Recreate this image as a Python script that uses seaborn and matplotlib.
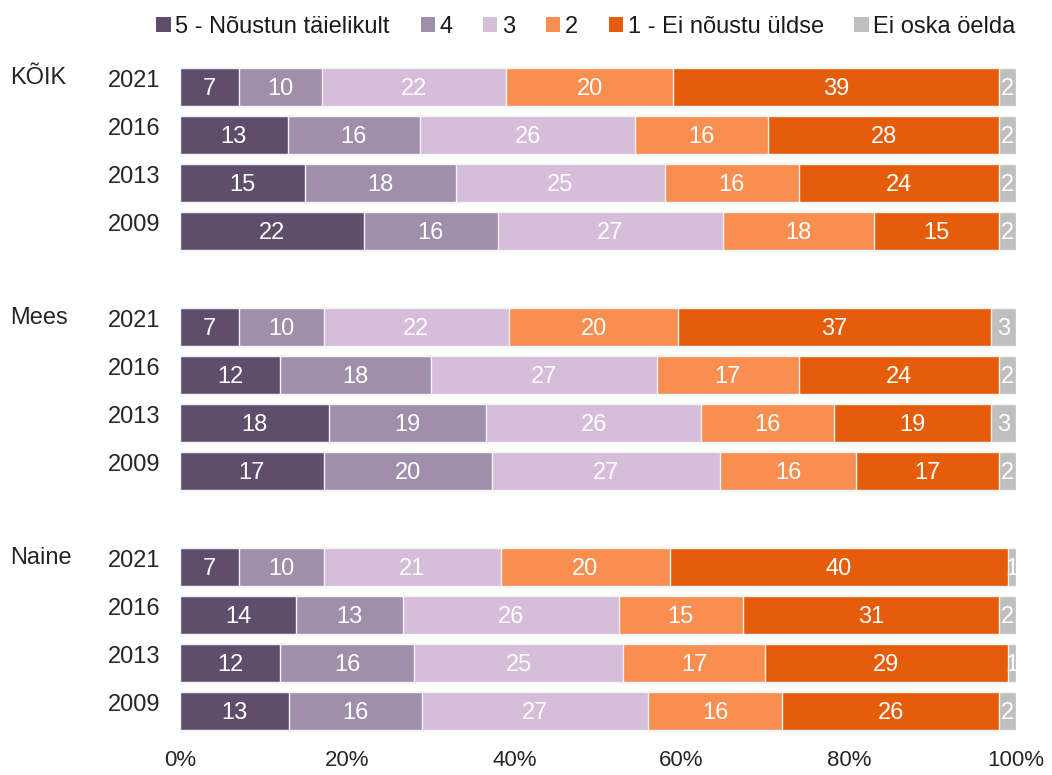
import numpy as np
import pandas as pd
import matplotlib
matplotlib.use("Agg")
import matplotlib.pyplot as plt
import seaborn as sns
from matplotlib import transforms
from matplotlib.patches import Patch

# ------------------------------------
# Data
# ------------------------------------

groups = ['KÕIK', 'Mees', 'Naine']
years = ['2021', '2016', '2013', '2009']
categories = ['5 - Nõustun täielikult', '4', '3', '2', '1 - Ei nõustu üldse', 'Ei oska öelda']
colors = ['#5e4e6b', '#a08fab', '#d6bdd9', '#f88e50', '#e55c0a', '#bfbfbf']

# one value per row: KÕIK 2021..2009, Mees 2021..2009, Naine 2021..2009
v5 = [7, 13, 15, 22, 7, 12, 18, 17, 7, 14, 12, 13]
v4 = [10, 16, 18, 16, 10, 18, 19, 20, 10, 13, 16, 16]
v3 = [22, 26, 25, 27, 22, 27, 26, 27, 21, 26, 25, 27]
v2 = [20, 16, 16, 18, 20, 17, 16, 16, 20, 15, 17, 16]
v1 = [39, 28, 24, 15, 37, 24, 19, 17, 40, 31, 29, 26]
v0 = [2, 2, 2, 2, 3, 2, 3, 2, 1, 2, 1, 2]

df = pd.DataFrame({'group': np.repeat(groups, len(years)), 'year': years * len(groups)})
for cat, vals in zip(categories, [v5, v4, v3, v2, v1, v0]):
    df[cat] = vals
df['row'] = df['group'] + ' ' + df['year']

shares = df[categories].div(df[categories].sum(axis=1), axis=0) * 100
cum = shares.cumsum(axis=1)

# row order with an empty slot between the groups
order = []
for gi, g in enumerate(groups):
    order += [g + ' ' + y for y in years]
    if gi < len(groups) - 1:
        order.append('gap%d' % gi)

# ------------------------------------
# Plot
# ------------------------------------

sns.set_style('white')
plt.rcParams['font.family'] = ['Liberation Sans', 'DejaVu Sans']

fig, ax = plt.subplots(figsize=(10.52, 7.75), dpi=100)
fig.subplots_adjust(left=0.1711, right=0.9658, top=0.9187, bottom=0.0516)

# stacked bars: draw cumulative totals from the longest to the shortest
for i in reversed(range(len(categories))):
    sns.barplot(x=cum[categories[i]], y=df['row'], order=order, orient='h',
                color=colors[i], saturation=1, width=0.8,
                edgecolor='#f4f4f4', linewidth=1, ax=ax)

# value labels
for r in range(len(df)):
    ypos = order.index(df['row'][r])
    for cat in categories:
        xc = cum.loc[r, cat] - shares.loc[r, cat] / 2
        ax.text(xc, ypos + 0.04, str(df.loc[r, cat]), ha='center', va='center',
                color='white', fontsize=17)

ax.set_xlim(0, 100)
ax.set_ylim(len(order) - 0.5, -0.5)
ax.set_xticks([0, 20, 40, 60, 80, 100])
ax.set_xticklabels(['0%', '20%', '40%', '60%', '80%', '100%'])

row_pos = [order.index(r) for r in df['row']]
ax.set_yticks(row_pos)
ax.set_yticklabels(df['year'])
ax.tick_params(axis='y', length=0, pad=14, labelsize=17, labelcolor='#262626')
ax.tick_params(axis='x', length=0, pad=11, labelsize=16, labelcolor='#262626')
ax.set_xlabel('')
ax.set_ylabel('')
sns.despine(left=True, bottom=True)

# shift year labels slightly upward, like the original
shift = transforms.ScaledTranslation(0, 9 / 100, fig.dpi_scale_trans)
for lab in ax.get_yticklabels():
    lab.set_transform(lab.get_transform() + shift)

# group labels
trans = transforms.blended_transform_factory(fig.transFigure, ax.transData) + shift
for g in groups:
    ax.text(0.0095, order.index(g + ' ' + years[0]), g, transform=trans,
            ha='left', va='center', fontsize=17, color='#262626')

# legend
handles = [Patch(facecolor=c, edgecolor='none') for c in colors]
fig.legend(handles, categories, loc='center', bbox_to_anchor=(0.557, 0.965), ncol=6,
           frameon=False, fontsize=17, handlelength=0.6, handleheight=0.6,
           handletextpad=0.2, columnspacing=1.3, labelcolor='#1a1a1a')

plt.savefig('out.png', dpi=100)
